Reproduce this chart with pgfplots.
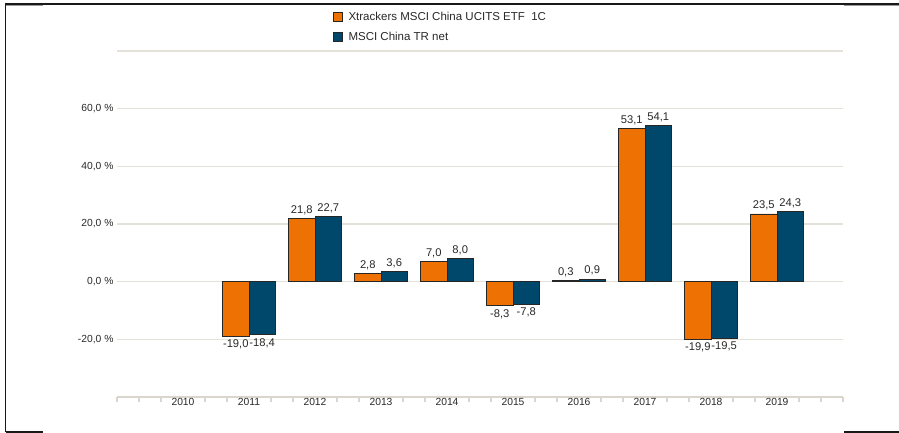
\documentclass[border=0pt]{standalone}
\usepackage{pgfplots}
\pgfplotsset{compat=1.18}
\usepackage{fontspec}
\setmainfont{Liberation Sans}
\definecolor{xorange}{RGB}{237,114,3}
\definecolor{xblue}{RGB}{0,72,107}
\definecolor{gridc}{RGB}{228,225,218}
\definecolor{axisc}{RGB}{218,214,205}
\definecolor{txt}{RGB}{40,40,40}
\begin{document}
\begin{tikzpicture}[x=1pt,y=1pt]
\path[use as bounding box] (0,0) rectangle (899,433);
\begin{axis}[
  at={(117pt,36pt)}, anchor=south west,
  scale only axis, width=726pt, height=346pt,
  xmin=-1, xmax=10, ymin=-40, ymax=80,
  enlargelimits=false, clip=false,
  ybar=0pt, bar width=0.4,
  axis x line*=bottom, axis y line*=left,
  y axis line style={draw=none},
  x axis line style={draw=axisc, line width=2pt},
  tick align=outside,
  major tick length=0pt, minor tick length=5pt,
  xtick={0,...,9}, xticklabels={2010,2011,2012,2013,2014,2015,2016,2017,2018,2019},
  minor xtick={-1,-0.6667,-0.3333,0.3333,0.6667,1.3333,1.6667,2.3333,2.6667,3.3333,3.6667,4.3333,4.6667,5.3333,5.6667,6.3333,6.6667,7.3333,7.6667,8.3333,8.6667,9.3333,9.6667,10},
  minor x tick style={draw=axisc, line width=1.5pt},
  major x tick style={draw=none},
  ytick={-40,-20,0,20,40,60,80},
  yticklabels={,{-20,0 \%},{0,0 \%},{20,0 \%},{40,0 \%},{60,0 \%},},
  ytick style={draw=none},
  ymajorgrids, grid style={draw=gridc, line width=1.5pt},
  ticklabel style={font=\fontsize{10.3}{12}\selectfont, text=txt},
  xticklabel style={yshift=2pt},
  /pgf/number format/fixed, /pgf/number format/fixed zerofill,
  /pgf/number format/precision=1, /pgf/number format/use comma,
  /pgf/number format/assume math mode=true,
  nodes near coords,
  nodes near coords style={font=\fontsize{11.2}{13}\selectfont, text=txt},
  legend style={at={(0.2975,1.119)}, anchor=north west, draw=none, fill=none,
    font=\fontsize{11.5}{13}\selectfont, text=txt, inner sep=0pt, row sep=6pt},
  legend cell align=left,
  legend image code/.code={\draw[#1, draw=black!85, line width=0.7pt] (0pt,-4.5pt) rectangle (9pt,4.5pt); \path[draw=none, fill=none] (0pt,0pt) -- (13pt,0pt);},
]
\addplot[fill=xorange, draw=black!85, line width=0.7pt] coordinates {
  (1,-19.0) (2,21.8) (3,2.8) (4,7.0) (5,-8.3) (6,0.3) (7,53.1) (8,-19.9) (9,23.5)};
\addplot[fill=xblue, draw=black!85, line width=0.7pt] coordinates {
  (1,-18.4) (2,22.7) (3,3.6) (4,8.0) (5,-7.8) (6,0.9) (7,54.1) (8,-19.5) (9,24.3)};
\legend{Xtrackers MSCI China UCITS ETF\ \ 1C, MSCI China TR net}
\end{axis}
\draw[black!90, line width=1.2pt] (5.5,1) -- (5.5,429) -- (899,429);
\draw[black!40, line width=1pt] (5.5,427.7) -- (43,427.7);
\draw[black!40, line width=1pt] (844,427.7) -- (899,427.7);
\draw[black!90, line width=1.2pt] (5.5,1) -- (43,1);
\draw[black!90, line width=1.2pt] (844,1) -- (899,1);
\end{tikzpicture}
\end{document}
